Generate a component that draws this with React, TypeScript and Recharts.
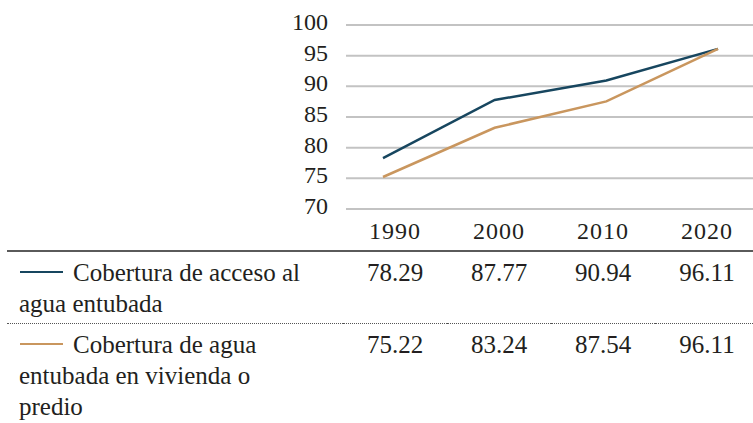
import React from 'react';
import { LineChart, Line, XAxis, YAxis, CartesianGrid } from 'recharts';

const years = ['1990', '2000', '2010', '2020'];
const accesoValues = [78.29, 87.77, 90.94, 96.11];
const viviendaValues = [75.22, 83.24, 87.54, 96.11];
const yTicks = [70, 75, 80, 85, 90, 95, 100];

const seriesNames = [
  'Cobertura de acceso al agua entubada',
  'Cobertura de agua entubada en vivienda o predio',
];
// line breaks as they fall in the original table
const seriesLabelLines = [
  ['Cobertura de acceso al', 'agua entubada'],
  ['Cobertura de agua', 'entubada en vivienda o', 'predio'],
];
const seriesColors = ['#17465f', '#c9965e'];
const seriesValues = [accesoValues, viviendaValues];

const data = years.map((year, i) => ({
  year,
  acceso: accesoValues[i],
  vivienda: viviendaValues[i],
}));

const FONT = '"Liberation Serif", "Times New Roman", serif';
const TEXT = '#231f20';

const YTick = (props: any) => {
  const { x, y, payload } = props;
  return (
    <text
      x={x}
      y={y}
      dy={5}
      textAnchor="end"
      fill={TEXT}
      fontSize={24}
      fontFamily={FONT}
    >
      {payload.value}
    </text>
  );
};

const cellStyle: React.CSSProperties = {
  padding: '5px 0 4px 0',
  verticalAlign: 'top',
  textAlign: 'center',
  width: 104,
};

const App = () => {
  return (
    <div
      style={{
        position: 'absolute',
        left: 0,
        top: 0,
        width: 753,
        height: 423,
        background: '#fff',
        overflow: 'hidden',
        fontFamily: FONT,
        color: TEXT,
      }}
    >
      <LineChart
        width={753}
        height={225}
        data={data}
        margin={{ top: 25, right: 0, left: 0, bottom: 16 }}
      >
        <CartesianGrid vertical={false} stroke="#c3c3c3" strokeWidth={2} />
        <XAxis
          dataKey="year"
          height={0}
          tick={false}
          tickLine={false}
          axisLine={{ stroke: '#5a5a5a', strokeWidth: 1.5 }}
          padding={{ left: 37, right: 35 }}
        />
        <YAxis
          width={346}
          domain={[70, 100]}
          ticks={yTicks}
          interval={0}
          axisLine={false}
          tickLine={false}
          tickSize={6}
          tickMargin={12}
          tick={<YTick />}
        />
        <Line
          dataKey="acceso"
          name={seriesNames[0]}
          stroke={seriesColors[0]}
          strokeWidth={2.5}
          dot={false}
          isAnimationActive={false}
        />
        <Line
          dataKey="vivienda"
          name={seriesNames[1]}
          stroke={seriesColors[1]}
          strokeWidth={2.5}
          dot={false}
          isAnimationActive={false}
        />
      </LineChart>

      <table
        style={{
          position: 'absolute',
          top: 209,
          left: 7,
          width: 752,
          borderCollapse: 'collapse',
          tableLayout: 'fixed',
          fontFamily: FONT,
          color: TEXT,
          fontSize: 25,
          lineHeight: '31px',
        }}
      >
        <thead>
          <tr style={{ height: 41, borderBottom: '2px solid #5a5a5a' }}>
            <th style={{ width: 336, padding: 0 }} />
            {years.map((y) => (
              <th
                key={y}
                style={{
                  ...cellStyle,
                  padding: '7px 0 3px 0',
                  fontWeight: 'normal',
                  fontSize: 24,
                  letterSpacing: 1,
                }}
              >
                {y}
              </th>
            ))}
          </tr>
        </thead>
        <tbody>
          {seriesLabelLines.map((lines, s) => (
            <tr
              key={s}
              style={{
                borderBottom: s === 0 ? '1px dotted #555' : 'none',
              }}
            >
              <td
                style={{
                  padding: '5px 0 4px 12px',
                  verticalAlign: 'top',
                  textAlign: 'left',
                  whiteSpace: 'nowrap',
                }}
              >
                {lines.map((line, i) => (
                  <div key={i}>
                    {i === 0 && (
                      <span
                        style={{
                          display: 'inline-block',
                          width: 43,
                          height: 2.5,
                          background: seriesColors[s],
                          verticalAlign: 8,
                          marginRight: 10,
                          marginLeft: 1,
                        }}
                      />
                    )}
                    {line}
                  </div>
                ))}
              </td>
              {seriesValues[s].map((v, i) => (
                <td key={i} style={cellStyle}>
                  {v.toFixed(2)}
                </td>
              ))}
            </tr>
          ))}
        </tbody>
      </table>
    </div>
  );
};

export default App;
